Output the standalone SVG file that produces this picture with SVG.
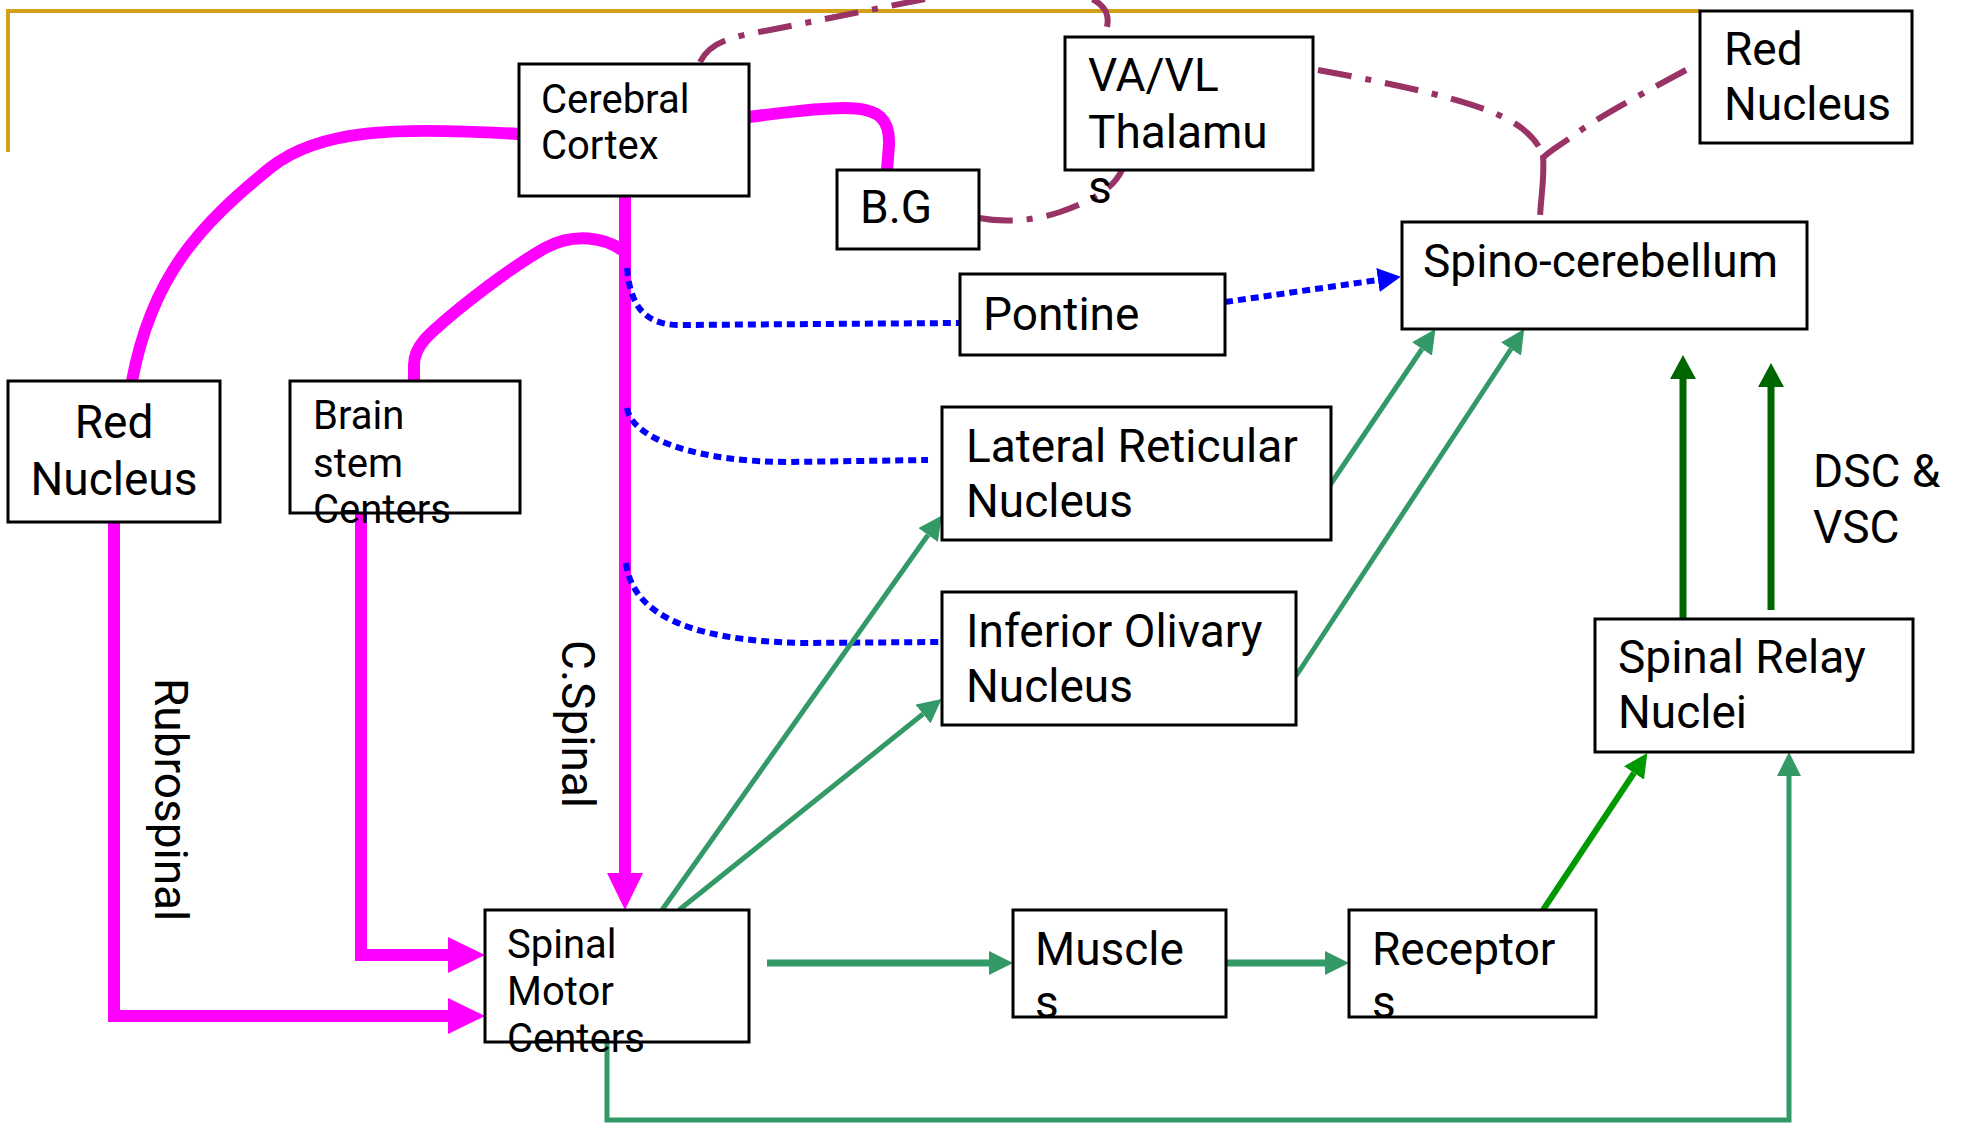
<svg xmlns="http://www.w3.org/2000/svg" width="1967" height="1125" viewBox="0 0 1967 1125">
<style>
.box{fill:#fff;stroke:#000;stroke-width:3}
.t{font-family:Roboto,"Liberation Sans",sans-serif;font-size:46px;fill:#000}
.s{font-size:40px}
.mag{fill:none;stroke:#ff00ff;stroke-width:12}
.blu{fill:none;stroke:#0000ff;stroke-width:6;stroke-dasharray:8 5}
.dd{fill:none;stroke:#993366;stroke-width:6;stroke-dasharray:34 14 6 14}
.grn{fill:none;stroke:#339966;stroke-width:5}
.bgr{fill:none;stroke:#009900;stroke-width:6}
.dgr{fill:none;stroke:#006600;stroke-width:7}
</style>
<defs>
<marker id="mh" markerUnits="userSpaceOnUse" markerWidth="37" markerHeight="36" refX="0" refY="18" orient="auto"><path d="M0,0 L37,18 L0,36 z" fill="#ff00ff"/></marker>
<marker id="bh" markerUnits="userSpaceOnUse" markerWidth="23" markerHeight="24" refX="0" refY="12" orient="auto"><path d="M0,0 L23,12 L0,24 z" fill="#0000ff"/></marker>
<marker id="gh" markerUnits="userSpaceOnUse" markerWidth="24" markerHeight="24" refX="0" refY="12" orient="auto"><path d="M0,0 L24,12 L0,24 z" fill="#339966"/></marker>
<marker id="bgh" markerUnits="userSpaceOnUse" markerWidth="24" markerHeight="24" refX="0" refY="12" orient="auto"><path d="M0,0 L24,12 L0,24 z" fill="#009900"/></marker>
<marker id="dgh" markerUnits="userSpaceOnUse" markerWidth="24" markerHeight="26" refX="0" refY="13" orient="auto"><path d="M0,0 L24,13 L0,26 z" fill="#006600"/></marker>
</defs>
<rect width="1967" height="1125" fill="#fff"/>
<g id="connectors">
<path d="M8,152 L8,11 L1700,11" fill="none" stroke="#d4a017" stroke-width="4"/>
<path class="dd" d="M700,62 C710,42 730,37 770,30 L935,-3 C1000,-16 1090,-20 1106,12 C1110,22 1106,30 1104,37"/>
<path class="dd" d="M979,218 C1000,222 1030,222 1060,212 C1100,198 1115,185 1122,170"/>
<path class="dd" d="M1318,70 C1400,85 1470,100 1505,118 C1525,128 1537,140 1543,155"/>
<path class="dd" d="M1686,70 C1650,90 1600,115 1570,138 C1556,148 1548,152 1543,158"/>
<path class="dd" style="stroke-dasharray:60 8" d="M1543,155 C1545,180 1540,200 1540,222"/>
<path class="mag" d="M519,134 C400,127 320,128 270,168 C200,225 152,275 132,381"/>
<path class="mag" d="M749,117 C790,112 815,108 845,108 C880,108 890,120 889,145 L887,170"/>
<path class="mag" d="M625,196 L625,873" marker-end="url(#mh)"/>
<path class="mag" d="M622,250 C605,238 575,232 545,248 C510,268 480,292 460,308 C430,333 414,345 414,365 L414,381"/>
<path class="mag" d="M114,522 L114,1016 L448,1016" marker-end="url(#mh)"/>
<path class="mag" d="M361,511 L361,955 L448,955" marker-end="url(#mh)"/>
<path class="blu" d="M627,268 C630,300 640,325 680,325 L960,323"/>
<path class="blu" d="M627,408 C632,440 700,462 790,462 L928,460"/>
<path class="blu" d="M626,563 C632,610 680,640 800,643 L942,642"/>
<path class="blu" d="M1225,302 L1378,280" marker-end="url(#bh)"/>
<path class="grn" d="M662,910 L928,535" marker-end="url(#gh)"/>
<path class="grn" d="M679,910 L923,714" marker-end="url(#gh)"/>
<path class="grn" d="M1330,485 L1422,349" marker-end="url(#gh)"/>
<path class="grn" d="M1296,676 L1511,349" marker-end="url(#gh)"/>
<path class="grn" style="stroke-width:7" d="M767,963 L989,963" marker-end="url(#gh)"/>
<path class="grn" style="stroke-width:7" d="M1226,963 L1325,963" marker-end="url(#gh)"/>
<path class="grn" d="M607,1042 L607,1120 L1789,1120 L1789,776" marker-end="url(#gh)"/>
<path class="bgr" d="M1543,910 L1634,773" marker-end="url(#bgh)"/>
<path class="dgr" d="M1683,619 L1683,379" marker-end="url(#dgh)"/>
<path class="dgr" d="M1771,610 L1771,387" marker-end="url(#dgh)"/>
</g>
<g id="cerebral-cortex"><rect class="box" x="519" y="64" width="230" height="132"/><text class="t s" x="541" y="113">Cerebral</text><text class="t s" x="541" y="159">Cortex</text></g>
<g id="bg"><rect class="box" x="837" y="170" width="142" height="79"/><text class="t" x="860" y="223">B.G</text></g>
<g id="thalamus"><rect class="box" x="1065" y="37" width="248" height="133"/><text class="t" x="1088" y="91">VA/VL</text><text class="t" x="1088" y="148">Thalamu</text><text class="t" x="1088" y="203">s</text></g>
<g id="red-nucleus-top"><rect class="box" x="1700" y="11" width="212" height="132"/><text class="t" x="1724" y="65">Red</text><text class="t" x="1724" y="120">Nucleus</text></g>
<g id="spino-cerebellum"><rect class="box" x="1402" y="222" width="405" height="107"/><text class="t" x="1423" y="277">Spino-cerebellum</text></g>
<g id="pontine"><rect class="box" x="960" y="274" width="265" height="81"/><text class="t" x="983" y="330">Pontine</text></g>
<g id="lateral-reticular"><rect class="box" x="942" y="407" width="389" height="133"/><text class="t" x="966" y="462">Lateral Reticular</text><text class="t" x="966" y="517">Nucleus</text></g>
<g id="inferior-olivary"><rect class="box" x="942" y="592" width="354" height="133"/><text class="t" x="966" y="647">Inferior Olivary</text><text class="t" x="966" y="702">Nucleus</text></g>
<g id="red-nucleus-left"><rect class="box" x="8" y="381" width="212" height="141"/><text class="t" x="114" y="438" text-anchor="middle">Red</text><text class="t" x="114" y="495" text-anchor="middle">Nucleus</text></g>
<g id="brain-stem"><rect class="box" x="290" y="381" width="230" height="132"/><text class="t s" x="313" y="429">Brain</text><text class="t s" x="313" y="477">stem</text><text class="t s" x="313" y="523">Centers</text></g>
<g id="spinal-motor"><rect class="box" x="485" y="910" width="264" height="132"/><text class="t s" x="507" y="958">Spinal</text><text class="t s" x="507" y="1005">Motor</text><text class="t s" x="507" y="1052">Centers</text></g>
<g id="muscles"><rect class="box" x="1013" y="910" width="213" height="107"/><text class="t" x="1035" y="965">Muscle</text><text class="t" x="1035" y="1018">s</text></g>
<g id="receptors"><rect class="box" x="1349" y="910" width="247" height="107"/><text class="t" x="1372" y="965">Receptor</text><text class="t" x="1372" y="1018">s</text></g>
<g id="spinal-relay"><rect class="box" x="1595" y="619" width="318" height="133"/><text class="t" x="1618" y="673">Spinal Relay</text><text class="t" x="1618" y="728">Nuclei</text></g>
<g id="labels">
<text class="t" x="1813" y="487">DSC &amp;</text><text class="t" x="1813" y="543">VSC</text>
<text class="t" transform="translate(155,678) rotate(90)">Rubrospinal</text>
<text class="t" transform="translate(562,640) rotate(90)">C.Spinal</text>
</g>
</svg>
